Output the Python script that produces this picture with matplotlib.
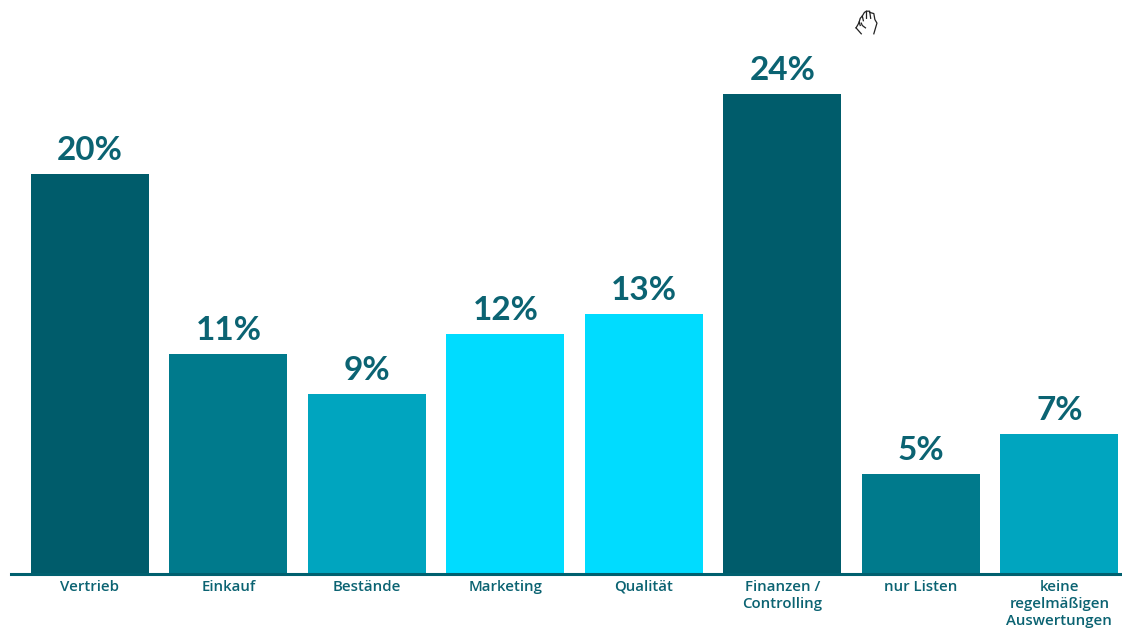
import numpy as np
import matplotlib
matplotlib.use('Agg')
import matplotlib.pyplot as plt

categories = ['Vertrieb', 'Einkauf', 'Bestände', 'Marketing', 'Qualität',
              'Finanzen /\nControlling', 'nur Listen', 'keine\nregelmäßigen\nAuswertungen']
values = [20, 11, 9, 12, 13, 24, 5, 7]
colors = ['#005c6b', '#007a8c', '#00a5bf', '#00dcff', '#00dcff', '#005c6b', '#007a8c', '#00a5bf']

# kleine Handvoll Striche für den Mauszeiger oben rechts
hand_lines = [
    [(0, 5), (2, 8), (3, 10), (4, 7)],
    [(3, 10), (4, 13), (6, 15), (7, 11)],
    [(6, 15), (8, 18), (10, 19), (10, 13)],
    [(10, 19), (13, 19), (14, 13)],
    [(13, 18), (17, 17), (18, 12), (20, 9), (18, 3), (17, 0)],
    [(0, 5), (2, 3), (5, 0)],
    [(5, 9), (6, 7), (9, 5)],
]

plt.rcParams['font.family'] = ['Lato', 'DejaVu Sans']
text_color = '#0b6372'

fig = plt.figure(figsize=(11.22, 6.28), dpi=100)
ax = fig.add_axes([11 / 1122, 54 / 628, 1111 / 1122, 574 / 628])

x = np.arange(len(categories))
bars = ax.bar(x, values, width=0.852, color=colors)
ax.bar_label(bars, labels=[f'{v}%' for v in values], padding=6.5, fontsize=24,
             fontweight='bold', color=text_color)

ax.set_xlim(-0.5704, 7.452)
ax.set_ylim(0, 28.7)
ax.set_yticks([])
ax.set_xticks(x)
ax.set_xticklabels(categories, fontsize=10.8, color=text_color, linespacing=1.3,
                   family=['Open Sans', 'DejaVu Sans'], fontweight='semibold')
ax.tick_params(axis='x', length=0, pad=4)
for side in ['top', 'left', 'right']:
    ax.spines[side].set_visible(False)
ax.spines['bottom'].set_color('#00606f')
ax.spines['bottom'].set_linewidth(2.2)

# Hand
hand = fig.add_axes([855 / 1122, (628 - 35) / 628, 23 / 1122, 25 / 628])
hand.axis('off')
hand.set_xlim(-1, 21)
hand.set_ylim(-1, 20)
for line in hand_lines:
    hand.plot(*zip(*line), color='#222222', lw=0.9)

fig.savefig('out.png', dpi=100)
